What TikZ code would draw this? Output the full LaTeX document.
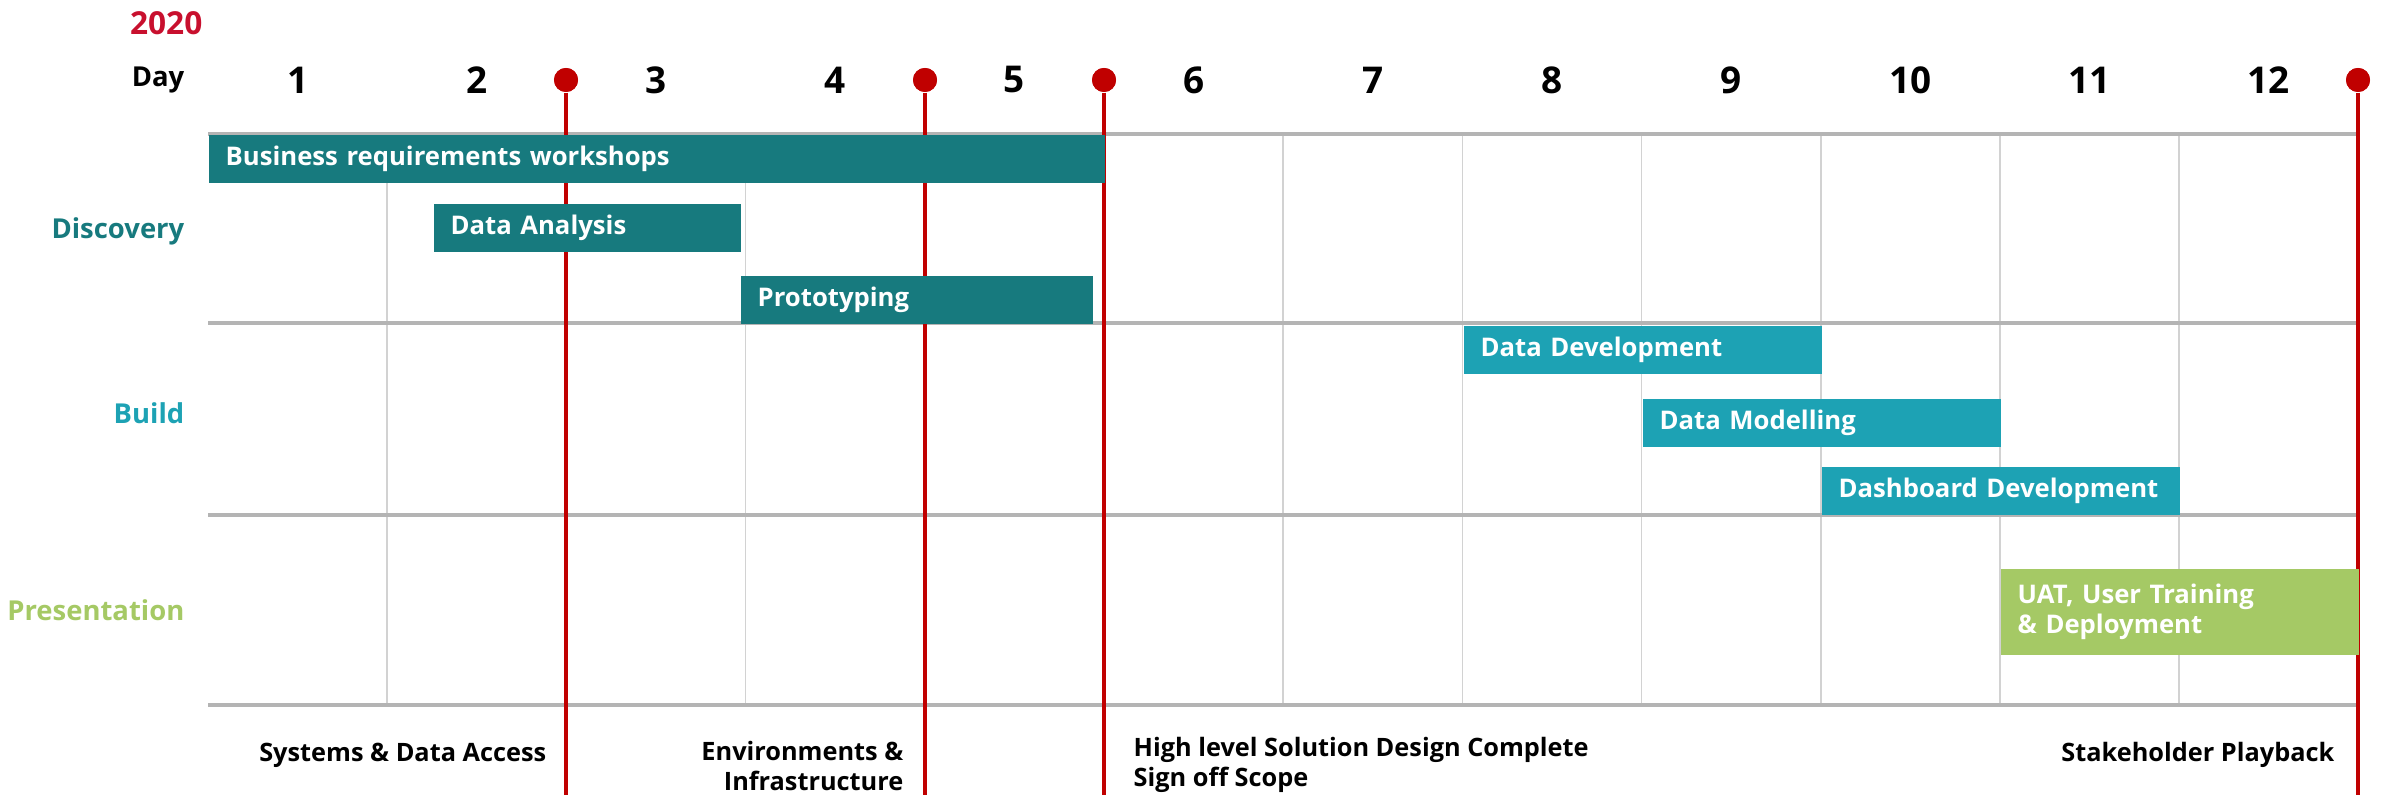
\documentclass[tikz,border=0pt]{standalone}
\usepackage{fontspec}
\setmainfont{Open Sans}
\usepackage{xcolor}
\usetikzlibrary{positioning}
\definecolor{disco}{HTML}{177A7E}
\definecolor{buildc}{HTML}{1DA2B4}
\definecolor{presc}{HTML}{A5C965}
\definecolor{milered}{HTML}{C00000}
\definecolor{yearred}{HTML}{C8102E}
\definecolor{rowgray}{HTML}{B4B4B4}
\definecolor{colgray}{HTML}{D2D2D2}
\tikzset{
  bar/.style={draw=none, fill=#1, anchor=north west, minimum height=0.48cm, inner xsep=0.17cm, inner ysep=0pt, align=left, text=white, font=\bfseries\fontsize{7.3}{8.6}\selectfont},
  daynum/.style={font=\bfseries\fontsize{10.5}{12}\selectfont, inner sep=0pt},
  phase/.style={anchor=east, inner sep=0pt, font=\bfseries\fontsize{7.8}{9}\selectfont},
  mdot/.style={circle, fill=milered, draw=none, minimum size=0.24cm, inner sep=0pt},
  mline/.style={milered, line width=1.15pt},
  rowline/.style={rowgray, line width=1.2pt},
  colline/.style={colgray, line width=0.5pt},
  note/.style={inner sep=0pt, font=\bfseries\fontsize{7.2}{8.4}\selectfont}
}

\begin{document}
\begin{tikzpicture}[x=0.01cm, y=-0.01cm]
  \useasboundingbox (0,0) rectangle (2381,795);
  \node[anchor=east, inner sep=0pt, text=yearred, font=\bfseries\fontsize{9}{10}\selectfont] (year) at (203,23) {2020};
  \node[phase] (day) at (185,80) {Day};
  \foreach \d in {1,...,12}
    \node[daynum] (d\d) at ({208+(\d-0.5)*179.2},80) {\d};
  \foreach \i in {1,...,11}
    \draw[colline] ({208+\i*179.2},134) -- ({208+\i*179.2},705);
  \foreach \y in {134,323,515,705}
    \draw[rowline] (208,\y) -- (2358,\y);
  \node[phase, text=disco] (discovery) at (185,231) {Discovery};
  \node[phase, text=buildc] (build) at (185,413) {Build};
  \node[phase, text=presc] (presentation) at (185,610) {Presentation};
  \node[mdot] (m1) at (566,80) {};
  \node[mdot] (m2) at (925,80) {};
  \node[mdot] (m3) at (1104,80) {};
  \node[mdot] (m4) at (2358,80) {};
  \coordinate (m1b) at (566,795);
  \coordinate (m2b) at (925,795);
  \coordinate (m3b) at (1104,795);
  \coordinate (m4b) at (2358,795);
  \draw[mline] (m1.south) -- (m1b);
  \draw[mline] (m2.south) -- (m2b);
  \draw[mline] (m3.south) -- (m3b);
  \draw[mline] (m4.south) -- (m4b);
  \node[bar=disco, minimum width=8.96cm, text width=8.62cm] (bizreq) at (208,134) {Business requirements workshops};
  \node[bar=disco, minimum width=3.07cm, text width=2.73cm] (analysis) at (433,203) {Data Analysis};
  \node[bar=disco, minimum width=3.52cm, text width=3.18cm] (proto) at (740,275) {Prototyping};
  \node[bar=buildc, minimum width=3.58cm, text width=3.24cm] (datadev) at (1463,325) {Data Development};
  \node[bar=buildc, minimum width=3.58cm, text width=3.24cm] (model) at (1642,398) {Data Modelling};
  \node[bar=buildc, minimum width=3.58cm, text width=3.24cm] (dash) at (1821,466) {Dashboard Development};
  \node[bar=presc, minimum width=3.58cm, text width=3.24cm, minimum height=0.86cm] (uat) at (2000,568) {UAT, User Training\\\& Deployment};
  \node[note, anchor=east] (access) at (547,755) {Systems \& Data Access};
  \node[note, anchor=east, align=right] (envinf) at (904,766) {Environments \&\\Infrastructure};
  \node[note, anchor=west, align=left] (design) at (1133,765) {High level Solution Design Complete\\Sign off Scope};
  \node[note, anchor=east] (playback) at (2335,755) {Stakeholder Playback};
  \node[mdot] at (m1) {};
  \node[mdot] at (m2) {};
  \node[mdot] at (m3) {};
  \node[mdot] at (m4) {};
\end{tikzpicture}
\end{document}
